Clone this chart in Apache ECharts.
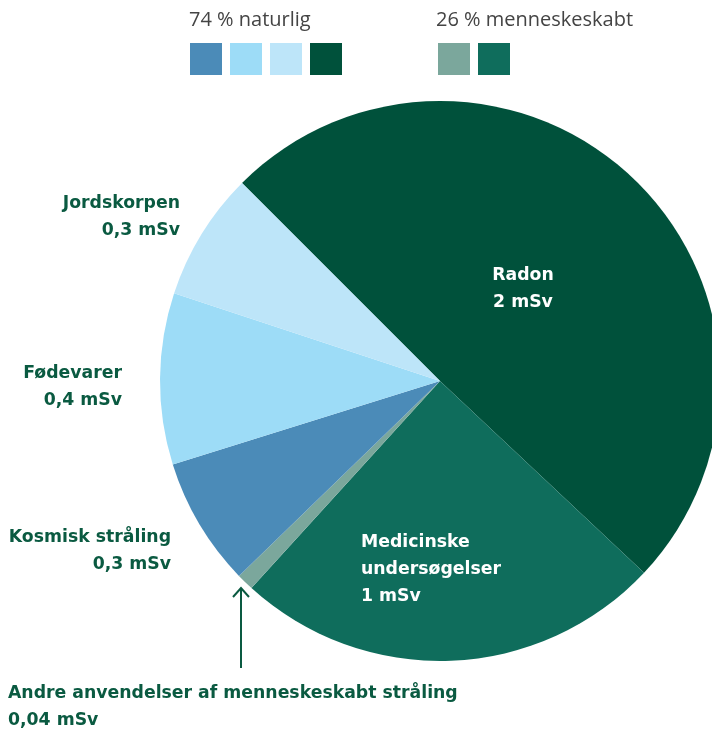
<!DOCTYPE html>
<html lang="da">
<head>
  <meta charset="UTF-8">
  <title>Stråling</title>
  <script src="https://cdn.jsdelivr.net/npm/echarts@6/dist/echarts.min.js"></script>
  <style>
    html, body { margin: 0; padding: 0; background: #ffffff; }
    #chart { width: 712px; height: 730px; }
  </style>
</head>
<body>
<div id="chart"></div>
<script>
  // data
  var names = ['Radon', 'Medicinske undersøgelser', 'Andre anvendelser af menneskeskabt stråling', 'Kosmisk stråling', 'Fødevarer', 'Jordskorpen'];
  var values = [2, 1, 0.04, 0.3, 0.4, 0.3];
  var valueLabels = ['2 mSv', '1 mSv', '0,04 mSv', '0,3 mSv', '0,4 mSv', '0,3 mSv'];
  var colors = ['#00513b', '#0f6d5c', '#7ba79c', '#4b8bb8', '#9ddcf7', '#bde5f9'];
  var legendTitles = ['74 % naturlig', '26 % menneskeskabt'];
  var naturalIdx = [3, 4, 5, 0];
  var manmadeIdx = [2, 1];

  var green = '#0a5a41';
  var labelFont = 'bold 17.3px "DejaVu Sans", sans-serif';
  var legendFont = '20px "Open Sans", sans-serif';

  var chart = echarts.init(document.getElementById('chart'), null, { renderer: 'canvas' });

  var graphics = [];
  // legend
  graphics.push({ type: 'text', x: 189, y: 20, style: { text: legendTitles[0], fill: '#444', font: legendFont, textVerticalAlign: 'middle' } });
  graphics.push({ type: 'text', x: 436, y: 20, style: { text: legendTitles[1], fill: '#444', font: legendFont, textVerticalAlign: 'middle' } });
  naturalIdx.forEach(function (k, i) {
    graphics.push({ type: 'rect', shape: { x: 190 + i * 40, y: 43, width: 32, height: 32 }, style: { fill: colors[k] } });
  });
  manmadeIdx.forEach(function (k, i) {
    graphics.push({ type: 'rect', shape: { x: 438 + i * 40, y: 43, width: 32, height: 32 }, style: { fill: colors[k] } });
  });

  // labels
  function lbl(text, x, y, align, color) {
    graphics.push({
      type: 'text', x: x, y: y, z: 10,
      style: { text: text, fill: color, font: labelFont, textAlign: align, textVerticalAlign: 'middle', lineHeight: 27 }
    });
  }
  lbl(names[5] + '\n' + valueLabels[5], 180, 217, 'right', green);
  lbl(names[4] + '\n' + valueLabels[4], 122, 387, 'right', green);
  lbl(names[3] + '\n' + valueLabels[3], 171, 551, 'right', green);
  lbl(names[2] + '\n' + valueLabels[2], 8, 707, 'left', green);
  lbl(names[0] + '\n' + valueLabels[0], 523, 289, 'center', '#fff');
  lbl('Medicinske\nundersøgelser\n' + valueLabels[1], 361, 570, 'left', '#fff');

  // arrow
  graphics.push({ type: 'polyline', z: 10, shape: { points: [[241, 668], [241, 588]] }, style: { stroke: green, lineWidth: 2, fill: null } });
  graphics.push({ type: 'polyline', z: 10, shape: { points: [[233, 597], [241, 588], [249, 597]] }, style: { stroke: green, lineWidth: 2, fill: null } });

  var option = {
    animation: false,
    graphic: graphics,
    series: [{
      type: 'pie',
      center: [440, 381],
      radius: 280,
      startAngle: 135,
      clockwise: true,
      silent: true,
      label: { show: false },
      labelLine: { show: false },
      itemStyle: { borderWidth: 0 },
      data: names.map(function (n, i) {
        return { name: n, value: values[i], itemStyle: { color: colors[i] } };
      })
    }]
  };
  chart.setOption(option);
</script>
</body>
</html>
